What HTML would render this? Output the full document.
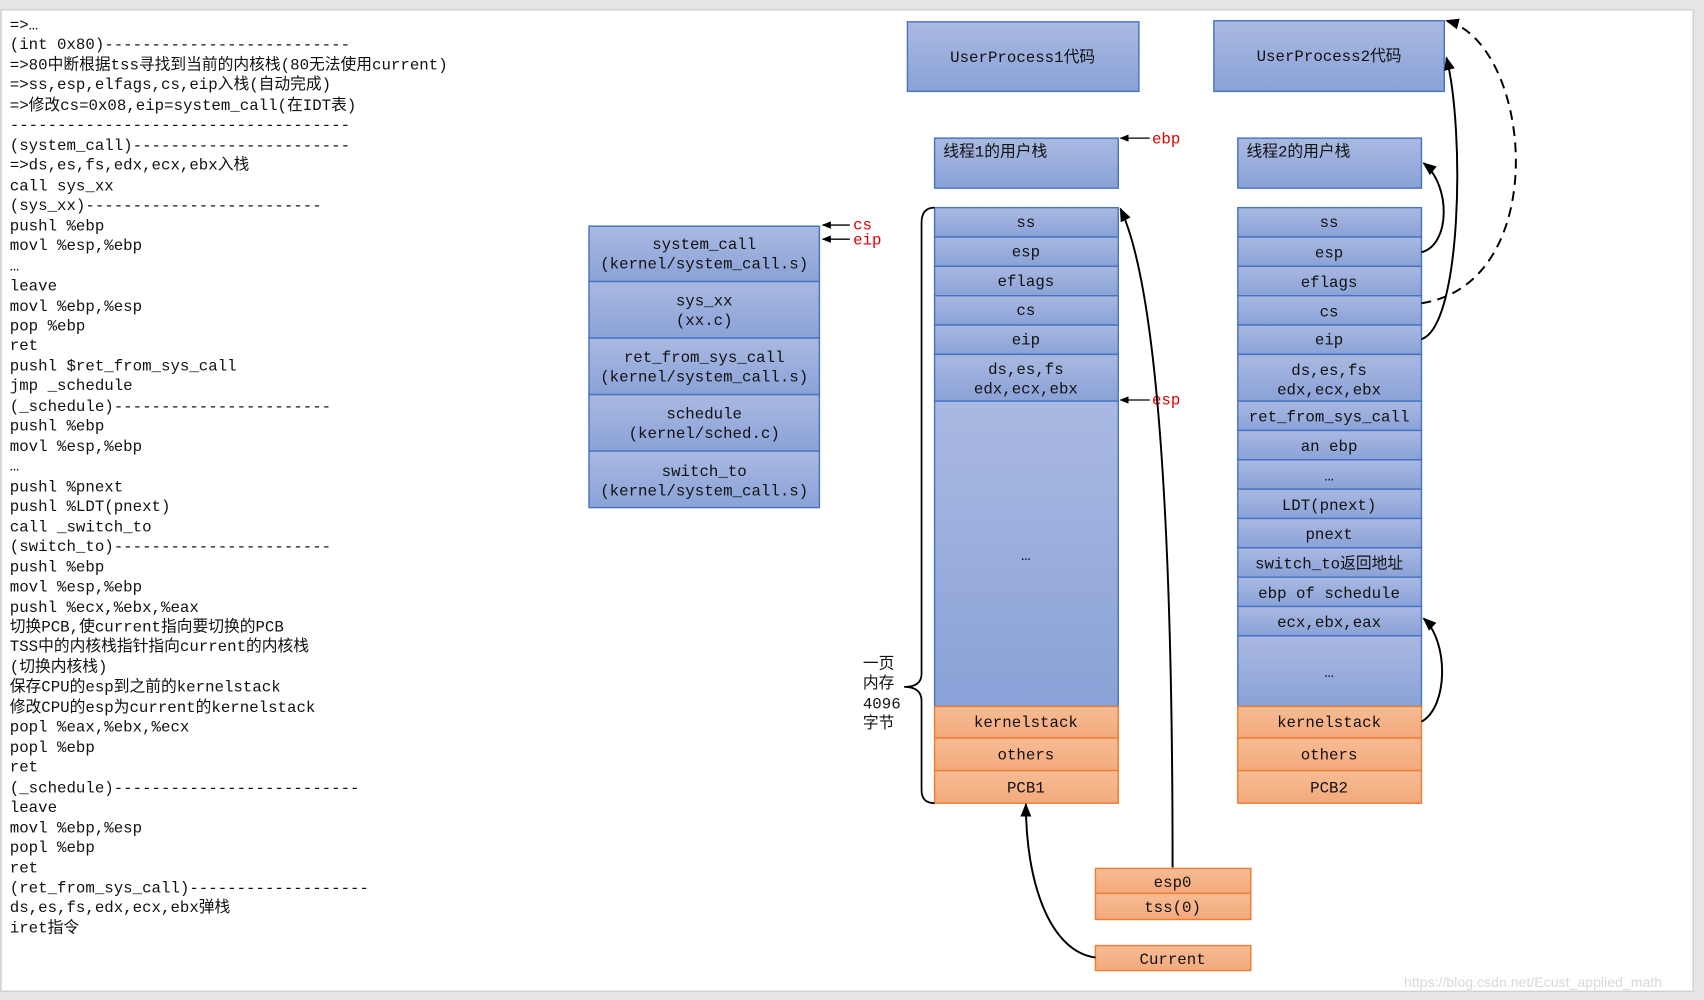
<!DOCTYPE html>
<html><head><meta charset="utf-8"><style>
html,body{margin:0;padding:0;background:#fff;}
svg{display:block;}
text{font-family:"Liberation Mono","Noto Sans CJK SC",monospace;font-size:14.5px;fill:#111;}
.c{text-anchor:middle;}
.r{fill:#e00000;}
</style></head><body>
<svg width="1704" height="1000" viewBox="0 0 1568 920" xmlns="http://www.w3.org/2000/svg">
<defs>
<linearGradient id="bg" x1="0" y1="0" x2="0" y2="1"><stop offset="0" stop-color="#a9b9e1"/><stop offset="1" stop-color="#8aa2d8"/></linearGradient>
<linearGradient id="og" x1="0" y1="0" x2="0" y2="1"><stop offset="0" stop-color="#f7bc94"/><stop offset="1" stop-color="#f3a97c"/></linearGradient>
<marker id="a" viewBox="0 0 10 10" refX="9" refY="5" markerWidth="7" markerHeight="7" orient="auto"><path d="M0,1 L10,5 L0,9 z" fill="#000"/></marker>
</defs>
<rect x="0" y="0" width="1568" height="920" fill="#e6e6e6"/>
<rect x="1" y="9" width="1557" height="903" fill="#fff" stroke="#c8c8c8"/>

<g>
<text x="9" y="27">=&gt;…</text>
<text x="9" y="45">(int 0x80)--------------------------</text>
<text x="9" y="64">=&gt;80中断根据tss寻找到当前的内核栈(80无法使用current)</text>
<text x="9" y="82">=&gt;ss,esp,elfags,cs,eip入栈(自动完成)</text>
<text x="9" y="101">=&gt;修改cs=0x08,eip=system_call(在IDT表)</text>
<text x="9" y="119">------------------------------------</text>
<text x="9" y="138">(system_call)-----------------------</text>
<text x="9" y="156">=&gt;ds,es,fs,edx,ecx,ebx入栈</text>
<text x="9" y="175">call sys_xx</text>
<text x="9" y="193">(sys_xx)-------------------------</text>
<text x="9" y="212">pushl %ebp</text>
<text x="9" y="230">movl %esp,%ebp</text>
<text x="9" y="249">…</text>
<text x="9" y="267">leave</text>
<text x="9" y="286">movl %ebp,%esp</text>
<text x="9" y="304">pop %ebp</text>
<text x="9" y="322">ret</text>
<text x="9" y="341">pushl $ret_from_sys_call</text>
<text x="9" y="359">jmp _schedule</text>
<text x="9" y="378">(_schedule)-----------------------</text>
<text x="9" y="396">pushl %ebp</text>
<text x="9" y="415">movl %esp,%ebp</text>
<text x="9" y="433">…</text>
<text x="9" y="452">pushl %pnext</text>
<text x="9" y="470">pushl %LDT(pnext)</text>
<text x="9" y="489">call _switch_to</text>
<text x="9" y="507">(switch_to)-----------------------</text>
<text x="9" y="526">pushl %ebp</text>
<text x="9" y="544">movl %esp,%ebp</text>
<text x="9" y="563">pushl %ecx,%ebx,%eax</text>
<text x="9" y="581">切换PCB,使current指向要切换的PCB</text>
<text x="9" y="599">TSS中的内核栈指针指向current的内核栈</text>
<text x="9" y="618">(切换内核栈)</text>
<text x="9" y="636">保存CPU的esp到之前的kernelstack</text>
<text x="9" y="655">修改CPU的esp为current的kernelstack</text>
<text x="9" y="673">popl %eax,%ebx,%ecx</text>
<text x="9" y="692">popl %ebp</text>
<text x="9" y="710">ret</text>
<text x="9" y="729">(_schedule)--------------------------</text>
<text x="9" y="747">leave</text>
<text x="9" y="766">movl %ebp,%esp</text>
<text x="9" y="784">popl %ebp</text>
<text x="9" y="803">ret</text>
<text x="9" y="821">(ret_from_sys_call)-------------------</text>
<text x="9" y="839">ds,es,fs,edx,ecx,ebx弹栈</text>
<text x="9" y="858">iret指令</text>
</g>

<!-- middle column -->
<g stroke="#4472c4" stroke-width="1.3" fill="url(#bg)">
<rect x="542" y="208" width="212" height="51"/>
<rect x="542" y="259" width="212" height="52"/>
<rect x="542" y="311" width="212" height="52"/>
<rect x="542" y="363" width="212" height="52"/>
<rect x="542" y="415" width="212" height="52"/>
</g>
<text class="c" x="648" y="229">system_call</text><text class="c" x="648" y="247">(kernel/system_call.s)</text>
<text class="c" x="648" y="281">sys_xx</text><text class="c" x="648" y="299">(xx.c)</text>
<text class="c" x="648" y="333">ret_from_sys_call</text><text class="c" x="648" y="351">(kernel/system_call.s)</text>
<text class="c" x="648" y="385">schedule</text><text class="c" x="648" y="403">(kernel/sched.c)</text>
<text class="c" x="648" y="438">switch_to</text><text class="c" x="648" y="456">(kernel/system_call.s)</text>
<g stroke="#000" stroke-width="1.2"><line x1="782" y1="207" x2="757" y2="207" marker-end="url(#a)"/><line x1="782" y1="220" x2="757" y2="220" marker-end="url(#a)"/></g>
<text class="r" x="785" y="211">cs</text><text class="r" x="785" y="225">eip</text>

<!-- user process boxes -->
<g stroke="#4472c4" stroke-width="1.3" fill="url(#bg)">
<rect x="835" y="20" width="213" height="64"/>
<rect x="1117" y="19" width="212" height="65"/>
<rect x="860" y="127" width="169" height="46"/>
<rect x="1139" y="127" width="169" height="46"/>
</g>
<text class="c" x="941" y="57">UserProcess1代码</text>
<text class="c" x="1223" y="56">UserProcess2代码</text>
<text x="868" y="144">线程1的用户栈</text>
<text x="1147" y="144">线程2的用户栈</text>
<line x1="1058" y1="127" x2="1031" y2="127" stroke="#000" stroke-width="1.2" marker-end="url(#a)"/>
<text class="r" x="1060" y="132">ebp</text>

<!-- stack 1 -->
<g stroke="#4472c4" stroke-width="1.3" fill="url(#bg)">
<rect x="860" y="191" width="169" height="27"/>
<rect x="860" y="218" width="169" height="27"/>
<rect x="860" y="245" width="169" height="27"/>
<rect x="860" y="272" width="169" height="27"/>
<rect x="860" y="299" width="169" height="27"/>
<rect x="860" y="326" width="169" height="43"/>
<rect x="860" y="369" width="169" height="281"/>
</g>
<g stroke="#ed7d31" stroke-width="1.3" fill="url(#og)">
<rect x="860" y="650" width="169" height="29"/>
<rect x="860" y="679" width="169" height="30"/>
<rect x="860" y="709" width="169" height="30"/>
</g>
<text class="c" x="944" y="209">ss</text>
<text class="c" x="944" y="236">esp</text>
<text class="c" x="944" y="263">eflags</text>
<text class="c" x="944" y="290">cs</text>
<text class="c" x="944" y="317">eip</text>
<text class="c" x="944" y="344">ds,es,fs</text>
<text class="c" x="944" y="362">edx,ecx,ebx</text>
<text class="c" x="944" y="515">…</text>
<text class="c" x="944" y="669">kernelstack</text>
<text class="c" x="944" y="699">others</text>
<text class="c" x="944" y="729">PCB1</text>
<line x1="1058" y1="368" x2="1031" y2="368" stroke="#000" stroke-width="1.2" marker-end="url(#a)"/>
<text class="r" x="1060" y="372">esp</text>

<!-- brace -->
<path d="M860,191 Q848,191 848,205 L848,620 Q848,632 832,632 Q848,632 848,645 L848,727 Q848,739 860,739" fill="none" stroke="#000" stroke-width="1.6"/>
<text x="794" y="615">一页</text>
<text x="794" y="633">内存</text>
<text x="794" y="652">4096</text>
<text x="794" y="670">字节</text>

<!-- stack 2 -->
<g stroke="#4472c4" stroke-width="1.3" fill="url(#bg)">
<rect x="1139" y="191" width="169" height="27"/>
<rect x="1139" y="218" width="169" height="27"/>
<rect x="1139" y="245" width="169" height="27"/>
<rect x="1139" y="272" width="169" height="27"/>
<rect x="1139" y="299" width="169" height="27"/>
<rect x="1139" y="326" width="169" height="43"/>
<rect x="1139" y="369" width="169" height="27"/>
<rect x="1139" y="396" width="169" height="27"/>
<rect x="1139" y="423" width="169" height="27"/>
<rect x="1139" y="450" width="169" height="27"/>
<rect x="1139" y="477" width="169" height="27"/>
<rect x="1139" y="504" width="169" height="27"/>
<rect x="1139" y="531" width="169" height="27"/>
<rect x="1139" y="558" width="169" height="27"/>
<rect x="1139" y="585" width="169" height="65"/>
</g>
<g stroke="#ed7d31" stroke-width="1.3" fill="url(#og)">
<rect x="1139" y="650" width="169" height="29"/>
<rect x="1139" y="679" width="169" height="30"/>
<rect x="1139" y="709" width="169" height="30"/>
</g>
<text class="c" x="1223" y="209">ss</text>
<text class="c" x="1223" y="237">esp</text>
<text class="c" x="1223" y="264">eflags</text>
<text class="c" x="1223" y="291">cs</text>
<text class="c" x="1223" y="317">eip</text>
<text class="c" x="1223" y="345">ds,es,fs</text>
<text class="c" x="1223" y="363">edx,ecx,ebx</text>
<text class="c" x="1223" y="388">ret_from_sys_call</text>
<text class="c" x="1223" y="415">an ebp</text>
<text class="c" x="1223" y="442">…</text>
<text class="c" x="1223" y="469">LDT(pnext)</text>
<text class="c" x="1223" y="496">pnext</text>
<text class="c" x="1223" y="523">switch_to返回地址</text>
<text class="c" x="1223" y="550">ebp of schedule</text>
<text class="c" x="1223" y="577">ecx,ebx,eax</text>
<text class="c" x="1223" y="623">…</text>
<text class="c" x="1223" y="669">kernelstack</text>
<text class="c" x="1223" y="699">others</text>
<text class="c" x="1223" y="729">PCB2</text>

<!-- tss / current -->
<g stroke="#ed7d31" stroke-width="1.3" fill="url(#og)">
<rect x="1008" y="799" width="143" height="23"/>
<rect x="1008" y="822" width="143" height="24"/>
<rect x="1008" y="870" width="143" height="23"/>
</g>
<text class="c" x="1079" y="816">esp0</text>
<text class="c" x="1079" y="839">tss(0)</text>
<text class="c" x="1079" y="887">Current</text>

<!-- connectors -->
<g fill="none" stroke="#000" stroke-width="1.8">
<path d="M1079,798 C1079,520 1068,270 1031,192" marker-end="url(#a)"/>
<path d="M1008,881 C965,875 944,810 944,740" marker-end="url(#a)"/>
<path d="M1308,312 C1345,300 1348,120 1331,53" marker-end="url(#a)"/>
<path d="M1308,279 C1430,260 1410,40 1331,19" stroke-dasharray="9,6" marker-end="url(#a)"/>
<path d="M1308,232 C1335,225 1335,170 1310,150" marker-end="url(#a)"/>
<path d="M1308,664 C1333,650 1333,590 1310,569" marker-end="url(#a)"/>
</g>
<text x="1292" y="908" style="font-family:'Liberation Sans',sans-serif;font-size:13px;fill:#d8d8d8">https://blog.csdn.net/Ecust_applied_math</text>
</svg>
</body></html>
